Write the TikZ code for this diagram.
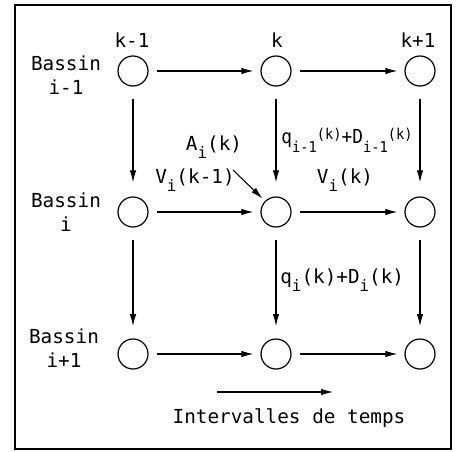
\documentclass[tikz,border=0pt]{standalone}
\usepackage{fontspec}
\setmonofont{DejaVu Sans Mono}
\usetikzlibrary{arrows.meta}
\usetikzlibrary{calc}

\tikzset{
  etat/.style={circle, draw, line width=0.7pt, minimum size=0.6cm, inner sep=0pt},
  lbl/.style={font=\ttfamily\fontsize{11}{14}\selectfont, inner sep=0pt, align=center},
  arr/.style={line width=0.6pt, -{Latex[length=2.4mm,width=1.3mm]}},
}
\newcommand{\indice}[1]{\raisebox{-0.7ex}{\fontsize{9}{9}\selectfont #1}}
\newcommand{\petitindice}[1]{\raisebox{-0.8ex}{\fontsize{8.5}{9}\selectfont #1}}
\newcommand{\haut}[1]{\raisebox{0.45ex}{\fontsize{8.5}{9}\selectfont #1}}

\begin{document}
\begin{tikzpicture}[x=0.02cm, y=-0.02cm]
    \useasboundingbox (0,0) rectangle (456,452);
    \draw[line width=0.8pt] (15,5) rectangle (451,449);

    % etats du reseau
    \node[etat] (c11) at (133,71) {};
    \node[etat] (c12) at (276,71) {};
    \node[etat] (c13) at (420,71) {};
    \node[etat] (c21) at (133,212) {};
    \node[etat] (c22) at (276,212) {};
    \node[etat] (c23) at (420,212) {};
    \node[etat] (c31) at (133,354) {};
    \node[etat] (c32) at (276,354) {};
    \node[etat] (c33) at (420,354) {};

    % intervalles et bassins
    \node[lbl] (t1) at (132,40) {k-1};
    \node[lbl] (t2) at (277,40) {k};
    \node[lbl] (t3) at (418,40) {k+1};
    \node[lbl] (b1) at (66,75) {Bassin\\i-1};
    \node[lbl] (b2) at (66,212) {Bassin\\i};
    \node[lbl] (b3) at (64,348) {Bassin\\i+1};

    % transferts dans le temps
    \foreach \r in {1,2,3} {
        \draw[arr, shorten <=5, shorten >=4] (c\r1) -- (c\r2);
        \draw[arr, shorten <=5, shorten >=4] (c\r2) -- (c\r3);
    }
    % transferts entre bassins
    \foreach \c in {1,2,3} {
        \draw[arr, shorten <=7, shorten >=8] (c1\c) -- (c2\c);
        \draw[arr, shorten <=7, shorten >=7] (c2\c) -- (c3\c);
    }

    % etiquettes
    \node[lbl] (ai) at (214,147) {A\indice{i}(k)};
    \coordinate (aiqueue) at (233,170);
    \draw[arr, shorten >=2] (aiqueue) -- (c22.north west);
    \node[lbl] (vprec) at (195,180) {V\indice{i}(k-1)};
    \node[lbl] (vcour) at (345,180) {V\indice{i}(k)};
    \node[lbl, anchor=west] (qhaut) at (281,140)
        {\scalebox{0.92}[1]{q\petitindice{i-1}\haut{(k)}+D\petitindice{i-1}\haut{(k)}}};
    \node[lbl, anchor=west] (qbas) at (280,280) {q\indice{i}(k)+D\indice{i}(k)};

    % sens du temps
    \coordinate (tdeb) at (217,392);
    \coordinate (tfin) at (333,392);
    \draw[arr] (tdeb) -- (tfin);
    \node[lbl] (temps) at (289,418) {Intervalles de temps};
\end{tikzpicture}
\end{document}
